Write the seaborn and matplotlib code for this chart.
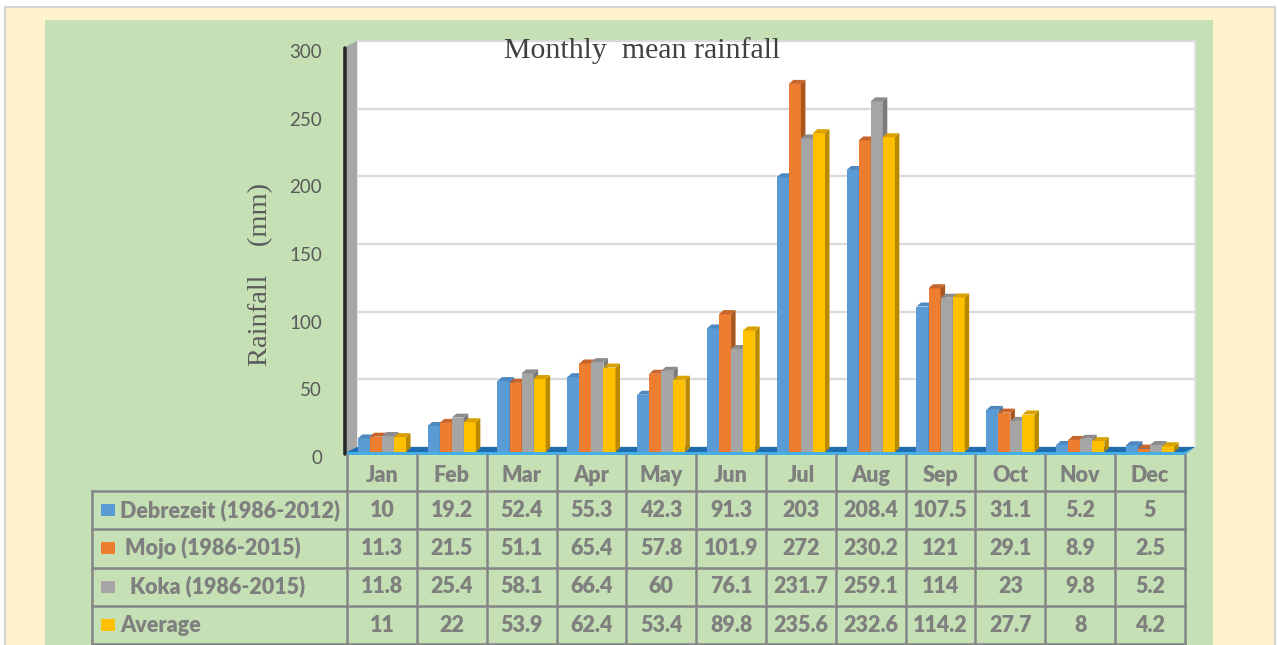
import numpy as np
import pandas as pd
import matplotlib
matplotlib.use("Agg")
import matplotlib.pyplot as plt
import seaborn as sns
from matplotlib.patches import Rectangle, Polygon
from matplotlib import transforms as mtransforms
from matplotlib.colors import to_hex

# ---- data -------------------------------------------------------------
months = ["Jan", "Feb", "Mar", "Apr", "May", "Jun",
          "Jul", "Aug", "Sep", "Oct", "Nov", "Dec"]
stations = ["Debrezeit (1986-2012)", "Mojo (1986-2015)",
            "Koka (1986-2015)", "Average"]
row_labels = ["Debrezeit (1986-2012)", " Mojo (1986-2015)",
              "  Koka (1986-2015)", "Average"]
debrezeit = [10, 19.2, 52.4, 55.3, 42.3, 91.3, 203, 208.4, 107.5, 31.1, 5.2, 5]
mojo = [11.3, 21.5, 51.1, 65.4, 57.8, 101.9, 272, 230.2, 121, 29.1, 8.9, 2.5]
koka = [11.8, 25.4, 58.1, 66.4, 60, 76.1, 231.7, 259.1, 114, 23, 9.8, 5.2]
average = [11, 22, 53.9, 62.4, 53.4, 89.8, 235.6, 232.6, 114.2, 27.7, 8, 4.2]
y_ticks = [0, 50, 100, 150, 200, 250, 300]

series = [debrezeit, mojo, koka, average]
front_colors = ["#5B9BD5", "#ED7D31", "#A5A5A5", "#FFC000"]
side_colors = ["#3F74A6", "#A9561E", "#7A7A7A", "#B98A00"]
top_colors = ["#4F88BF", "#C8652A", "#8C8C8C", "#D9A200"]

df = pd.DataFrame({
    "Month": np.tile(months, len(stations)),
    "Station": np.repeat(stations, len(months)),
    "Rainfall": np.concatenate([np.asarray(s, float) for s in series]),
})

# ---- figure -----------------------------------------------------------
W, H = 1278, 645
sns.set_theme(style="white")
plt.rcParams["font.family"] = ["Lato", "DejaVu Sans"]
fig = plt.figure(figsize=(W / 100, H / 100), dpi=100)
fig.patch.set_facecolor("white")


def fx(px):
    return px / W


def fy(py):
    return 1 - py / H


# page panels
fig.add_artist(Rectangle((fx(5), -0.05), fx(1275) - fx(5), fy(7) + 0.05,
                         transform=fig.transFigure, fc="#FFF2CC",
                         ec="#D4D4D4", lw=1.5, zorder=-3))
fig.add_artist(Rectangle((fx(45), -0.05), fx(1213) - fx(45), fy(20) + 0.05,
                         transform=fig.transFigure, fc="#C5E0B4",
                         ec="none", zorder=-2))

# plot region (front plane)
L, R, Y0, YTOP = 347, 1185, 452, 46
ax = fig.add_axes([fx(L), fy(Y0), (R - L) / W, (Y0 - YTOP) / H])
ax.set_facecolor("none")

sns.barplot(data=df, x="Month", y="Rainfall", hue="Station",
            palette=front_colors, hue_order=stations, order=months,
            width=0.69, saturation=1, ax=ax, legend=False,
            edgecolor="none", linewidth=0, errorbar=None)
bars = [b for c in ax.containers for b in c]
ax.set_xlim(-0.5, 11.5)
ax.set_ylim(0, 300)

ppx = (R - L) / 12.0          # pixels per category unit
ppy = (Y0 - YTOP) / 300.0     # pixels per mm

# back wall & gridlines, pushed back in depth
wall_off = mtransforms.ScaledTranslation(0.10, 0.05, fig.dpi_scale_trans)
ax.add_patch(Rectangle((0, 0), 1, 1, transform=ax.transAxes + wall_off,
                       fc="white", ec="#E3E3E3", lw=1.2, zorder=0.5,
                       clip_on=False))
for v in y_ticks[1:]:
    ax.plot([-0.5, 11.5], [v, v], transform=ax.transData + wall_off,
            color="#DADADA", lw=1.6, zorder=0.8, clip_on=False)

dxw, dyw = 10 / ppx, 5 / ppy
# side wall
ax.add_patch(Polygon([(-0.5, 0), (-0.5, 300), (-0.5 + dxw, 300 + dyw),
                      (-0.5 + dxw, dyw)], closed=True, fc="#A6A6A6",
                     ec="none", zorder=1, clip_on=False))
ax.plot([-0.5, -0.5], [-2 / ppy, 300 - 2 / ppy],
        transform=ax.transData + mtransforms.ScaledTranslation(-0.015, 0, fig.dpi_scale_trans),
        color="#262626", lw=2.6, zorder=1.2, clip_on=False)
# floor
ax.add_patch(Polygon([(-0.5, 0), (11.5, 0), (11.5 + dxw, dyw),
                      (-0.5 + dxw, dyw)], closed=True, fc="#1F6DB0",
                     ec="none", zorder=1.5, clip_on=False))
ax.add_patch(Polygon([(-0.5, -3 / ppy), (11.5, -3 / ppy), (11.5 + dxw, dyw),
                      (11.5, 0), (-0.5, 0)], closed=True, fc="#45B0E6",
                     ec="none", zorder=1.4, clip_on=False))

# 3-D faces for each bar
bdx, bdy = 4.5 / ppx, 4 / ppy
bars = sorted(bars, key=lambda p: p.get_x())
for k, b in enumerate(bars):
    ci = front_colors.index(to_hex(b.get_facecolor()).upper())
    x, w, h = b.get_x(), b.get_width(), b.get_height()
    z = 3 + k * 0.01
    b.set_zorder(z)
    ax.add_patch(Polygon([(x + w, 0), (x + w + bdx, bdy), (x + w + bdx, h + bdy),
                          (x + w, h)], closed=True, fc=side_colors[ci],
                         ec="none", zorder=z))
    ax.add_patch(Polygon([(x, h), (x + w, h), (x + w + bdx, h + bdy),
                          (x + bdx, h + bdy)], closed=True, fc=top_colors[ci],
                         ec="none", zorder=z))

# axes styling
for s in ax.spines.values():
    s.set_visible(False)
ax.set_yticks(y_ticks)
ax.set_yticklabels([str(t) for t in y_ticks])
ax.tick_params(axis="y", length=0, pad=18, labelsize=13.5, labelcolor="#595959")
ax.tick_params(axis="x", length=0, labelbottom=False)
ax.set_xlabel("")
ax.set_ylabel("")
lab_off = mtransforms.ScaledTranslation(0, -0.05, fig.dpi_scale_trans)
for lbl in ax.get_yticklabels():
    lbl.set_transform(lbl.get_transform() + lab_off)

# titles
fig.text(fx(642), fy(51), "Monthly  mean rainfall", ha="center", va="center",
         family="Liberation Serif", fontsize=21.5, color="#404040")
fig.text(fx(261), fy(274), "Rainfall    (mm)", ha="center", va="center",
         rotation=90, family="Liberation Serif", fontsize=20.5, color="#595959")

# ---- data table ---------------------------------------------------------
tpx = mtransforms.Affine2D().scale(1, -1).translate(0, H)
tt = mtransforms.blended_transform_factory(ax.transData, tpx)
xl = -0.5 - (347 - 92) / ppx
grid_c = "#858585"
hdr_top, tab_top, row_h = 455, 491, 38.3
n_rows = len(series)
edges = [i - 0.5 for i in range(len(months) + 1)]


def tline(xs, ys):
    ax.plot(xs, ys, transform=tt, color=grid_c, lw=1.8, clip_on=False,
            zorder=5, solid_capstyle="projecting")


for e in edges:
    tline([e, e], [hdr_top, tab_top + n_rows * row_h])
tline([xl, xl], [tab_top, tab_top + n_rows * row_h])
for r in range(n_rows + 1):
    tline([xl, 11.5], [tab_top + r * row_h, tab_top + r * row_h])

tab_font = dict(fontsize=15.5, fontweight="heavy", color="#7F7F7F")
txt_kw = dict(transform=tt, ha="center", va="center", clip_on=False, **tab_font)
for i, m in enumerate(months):
    ax.text(i, (hdr_top + tab_top) / 2 + 2, m, **txt_kw)
for r, (lab, vals) in enumerate(zip(row_labels, series)):
    cy = tab_top + (r + 0.5) * row_h
    ax.add_patch(Rectangle((xl + 9 / ppx, cy - 6), 14 / ppx, 12,
                           transform=tt, fc=front_colors[r], ec="none",
                           clip_on=False, zorder=6))
    ax.text(xl + 28 / ppx, cy, lab, transform=tt, ha="left", va="center",
            clip_on=False, **tab_font)
    for i, v in enumerate(vals):
        ax.text(i, cy, f"{v:g}", **txt_kw)

fig.savefig("out.png", dpi=100)
